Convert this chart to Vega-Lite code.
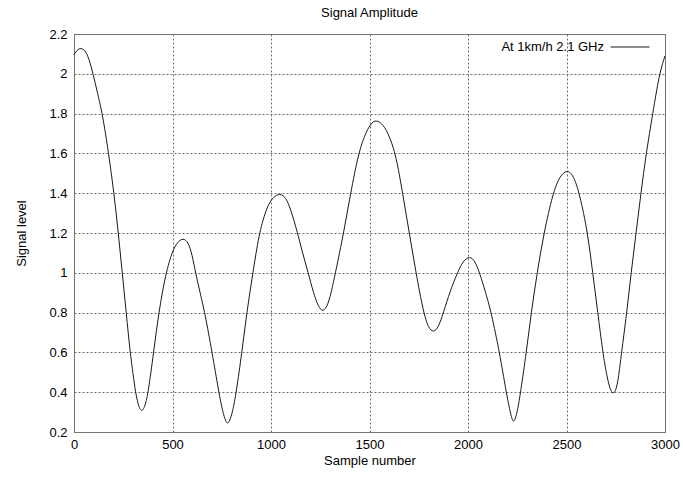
{
  "$schema": "https://vega.github.io/schema/vega-lite/v6.json",
  "width": 591,
  "height": 398,
  "autosize": {"type": "none"},
  "padding": {"left": 74, "top": 34, "right": 18, "bottom": 45},
  "background": "white",
  "title": {
    "text": "Signal Amplitude",
    "font": "Liberation Sans",
    "fontSize": 13,
    "fontWeight": "normal",
    "color": "#000000",
    "anchor": "middle",
    "frame": "group",
    "offset": 7
  },
  "config": {
    "view": {"stroke": "#7a7a7a", "strokeWidth": 1},
    "axis": {
      "domain": false,
      "ticks": false,
      "grid": true,
      "gridColor": "#6a6a6a",
      "gridDash": [2, 2],
      "gridWidth": 1,
      "labelFont": "Liberation Sans",
      "labelFontSize": 13,
      "labelColor": "#000000",
      "labelFlush": false,
      "labelOverlap": false,
      "titleFont": "Liberation Sans",
      "titleFontSize": 13,
      "titleFontWeight": "normal",
      "titleColor": "#000000"
    }
  },
  "data": {
    "values": [
      {"sample": 0, "level": 2.095},
      {"sample": 15, "level": 2.12},
      {"sample": 35, "level": 2.13},
      {"sample": 55, "level": 2.12},
      {"sample": 75, "level": 2.08},
      {"sample": 97, "level": 2.0},
      {"sample": 120, "level": 1.9},
      {"sample": 144, "level": 1.8},
      {"sample": 176, "level": 1.6},
      {"sample": 203, "level": 1.4},
      {"sample": 225, "level": 1.2},
      {"sample": 245, "level": 1.0},
      {"sample": 265, "level": 0.8},
      {"sample": 285, "level": 0.6},
      {"sample": 300, "level": 0.49},
      {"sample": 312, "level": 0.4},
      {"sample": 325, "level": 0.34},
      {"sample": 335, "level": 0.315},
      {"sample": 344, "level": 0.305},
      {"sample": 353, "level": 0.315},
      {"sample": 363, "level": 0.34},
      {"sample": 377, "level": 0.4},
      {"sample": 404, "level": 0.6},
      {"sample": 430, "level": 0.8},
      {"sample": 466, "level": 1.0},
      {"sample": 500, "level": 1.11},
      {"sample": 525, "level": 1.155},
      {"sample": 554, "level": 1.175},
      {"sample": 580, "level": 1.155},
      {"sample": 600, "level": 1.09},
      {"sample": 617, "level": 1.0},
      {"sample": 640, "level": 0.9},
      {"sample": 664, "level": 0.8},
      {"sample": 701, "level": 0.6},
      {"sample": 735, "level": 0.4},
      {"sample": 755, "level": 0.3},
      {"sample": 770, "level": 0.255},
      {"sample": 780, "level": 0.24},
      {"sample": 790, "level": 0.255},
      {"sample": 805, "level": 0.3},
      {"sample": 824, "level": 0.4},
      {"sample": 852, "level": 0.6},
      {"sample": 877, "level": 0.8},
      {"sample": 908, "level": 1.0},
      {"sample": 940, "level": 1.2},
      {"sample": 970, "level": 1.3},
      {"sample": 987, "level": 1.343},
      {"sample": 1010, "level": 1.38},
      {"sample": 1045, "level": 1.4},
      {"sample": 1075, "level": 1.38},
      {"sample": 1100, "level": 1.32},
      {"sample": 1135, "level": 1.2},
      {"sample": 1160, "level": 1.1},
      {"sample": 1189, "level": 1.0},
      {"sample": 1215, "level": 0.9},
      {"sample": 1240, "level": 0.83},
      {"sample": 1264, "level": 0.8},
      {"sample": 1290, "level": 0.84},
      {"sample": 1310, "level": 0.92},
      {"sample": 1327, "level": 1.0},
      {"sample": 1369, "level": 1.2},
      {"sample": 1404, "level": 1.4},
      {"sample": 1444, "level": 1.6},
      {"sample": 1475, "level": 1.69},
      {"sample": 1505, "level": 1.75},
      {"sample": 1534, "level": 1.77},
      {"sample": 1570, "level": 1.745},
      {"sample": 1600, "level": 1.69},
      {"sample": 1635, "level": 1.59},
      {"sample": 1668, "level": 1.4},
      {"sample": 1702, "level": 1.2},
      {"sample": 1736, "level": 1.0},
      {"sample": 1774, "level": 0.8},
      {"sample": 1800, "level": 0.72},
      {"sample": 1825, "level": 0.7},
      {"sample": 1850, "level": 0.725},
      {"sample": 1875, "level": 0.8},
      {"sample": 1910, "level": 0.91},
      {"sample": 1946, "level": 1.0},
      {"sample": 1975, "level": 1.06},
      {"sample": 2008, "level": 1.085},
      {"sample": 2035, "level": 1.06},
      {"sample": 2059, "level": 1.0},
      {"sample": 2090, "level": 0.9},
      {"sample": 2118, "level": 0.8},
      {"sample": 2160, "level": 0.6},
      {"sample": 2194, "level": 0.4},
      {"sample": 2212, "level": 0.31},
      {"sample": 2223, "level": 0.265},
      {"sample": 2231, "level": 0.25},
      {"sample": 2240, "level": 0.265},
      {"sample": 2252, "level": 0.31},
      {"sample": 2267, "level": 0.4},
      {"sample": 2296, "level": 0.6},
      {"sample": 2321, "level": 0.8},
      {"sample": 2351, "level": 1.0},
      {"sample": 2385, "level": 1.2},
      {"sample": 2431, "level": 1.4},
      {"sample": 2465, "level": 1.485},
      {"sample": 2503, "level": 1.52},
      {"sample": 2535, "level": 1.49},
      {"sample": 2566, "level": 1.4},
      {"sample": 2608, "level": 1.2},
      {"sample": 2633, "level": 1.0},
      {"sample": 2659, "level": 0.8},
      {"sample": 2684, "level": 0.6},
      {"sample": 2705, "level": 0.48},
      {"sample": 2722, "level": 0.41},
      {"sample": 2738, "level": 0.39},
      {"sample": 2752, "level": 0.41},
      {"sample": 2765, "level": 0.48},
      {"sample": 2777, "level": 0.58},
      {"sample": 2806, "level": 0.8},
      {"sample": 2828, "level": 1.0},
      {"sample": 2853, "level": 1.2},
      {"sample": 2878, "level": 1.4},
      {"sample": 2904, "level": 1.6},
      {"sample": 2938, "level": 1.8},
      {"sample": 2971, "level": 2.0},
      {"sample": 3000, "level": 2.09}
    ]
  },
  "mark": {"type": "line", "interpolate": "basis", "strokeWidth": 1},
  "encoding": {
    "x": {
      "field": "sample",
      "type": "quantitative",
      "scale": {"domain": [0, 3000], "nice": false, "zero": false},
      "axis": {
        "title": "Sample number",
        "values": [0, 500, 1000, 1500, 2000, 2500, 3000],
        "format": "d",
        "labelPadding": 6,
        "titleY": 28,
        "titleBaseline": "middle"
      }
    },
    "y": {
      "field": "level",
      "type": "quantitative",
      "scale": {"domain": [0.2, 2.2], "nice": false, "zero": false},
      "axis": {
        "title": "Signal level",
        "values": [0.2, 0.4, 0.6, 0.8, 1, 1.2, 1.4, 1.6, 1.8, 2, 2.2],
        "format": "~g",
        "labelPadding": 7,
        "titleAngle": -90,
        "titleX": -53,
        "titleY": 199,
        "titleAlign": "center",
        "titleBaseline": "middle"
      }
    },
    "color": {
      "datum": "At 1km/h 2.1 GHz",
      "type": "nominal",
      "scale": {"range": ["#1a1a1a"]},
      "legend": {
        "title": null,
        "orient": "none",
        "legendX": 536,
        "legendY": -7,
        "padding": 0,
        "symbolType": "stroke",
        "symbolSize": 1521,
        "symbolStrokeWidth": 1,
        "labelAlign": "right",
        "labelOffset": -46,
        "labelFont": "Liberation Sans",
        "labelFontSize": 13,
        "labelColor": "#000000"
      }
    }
  }
}
